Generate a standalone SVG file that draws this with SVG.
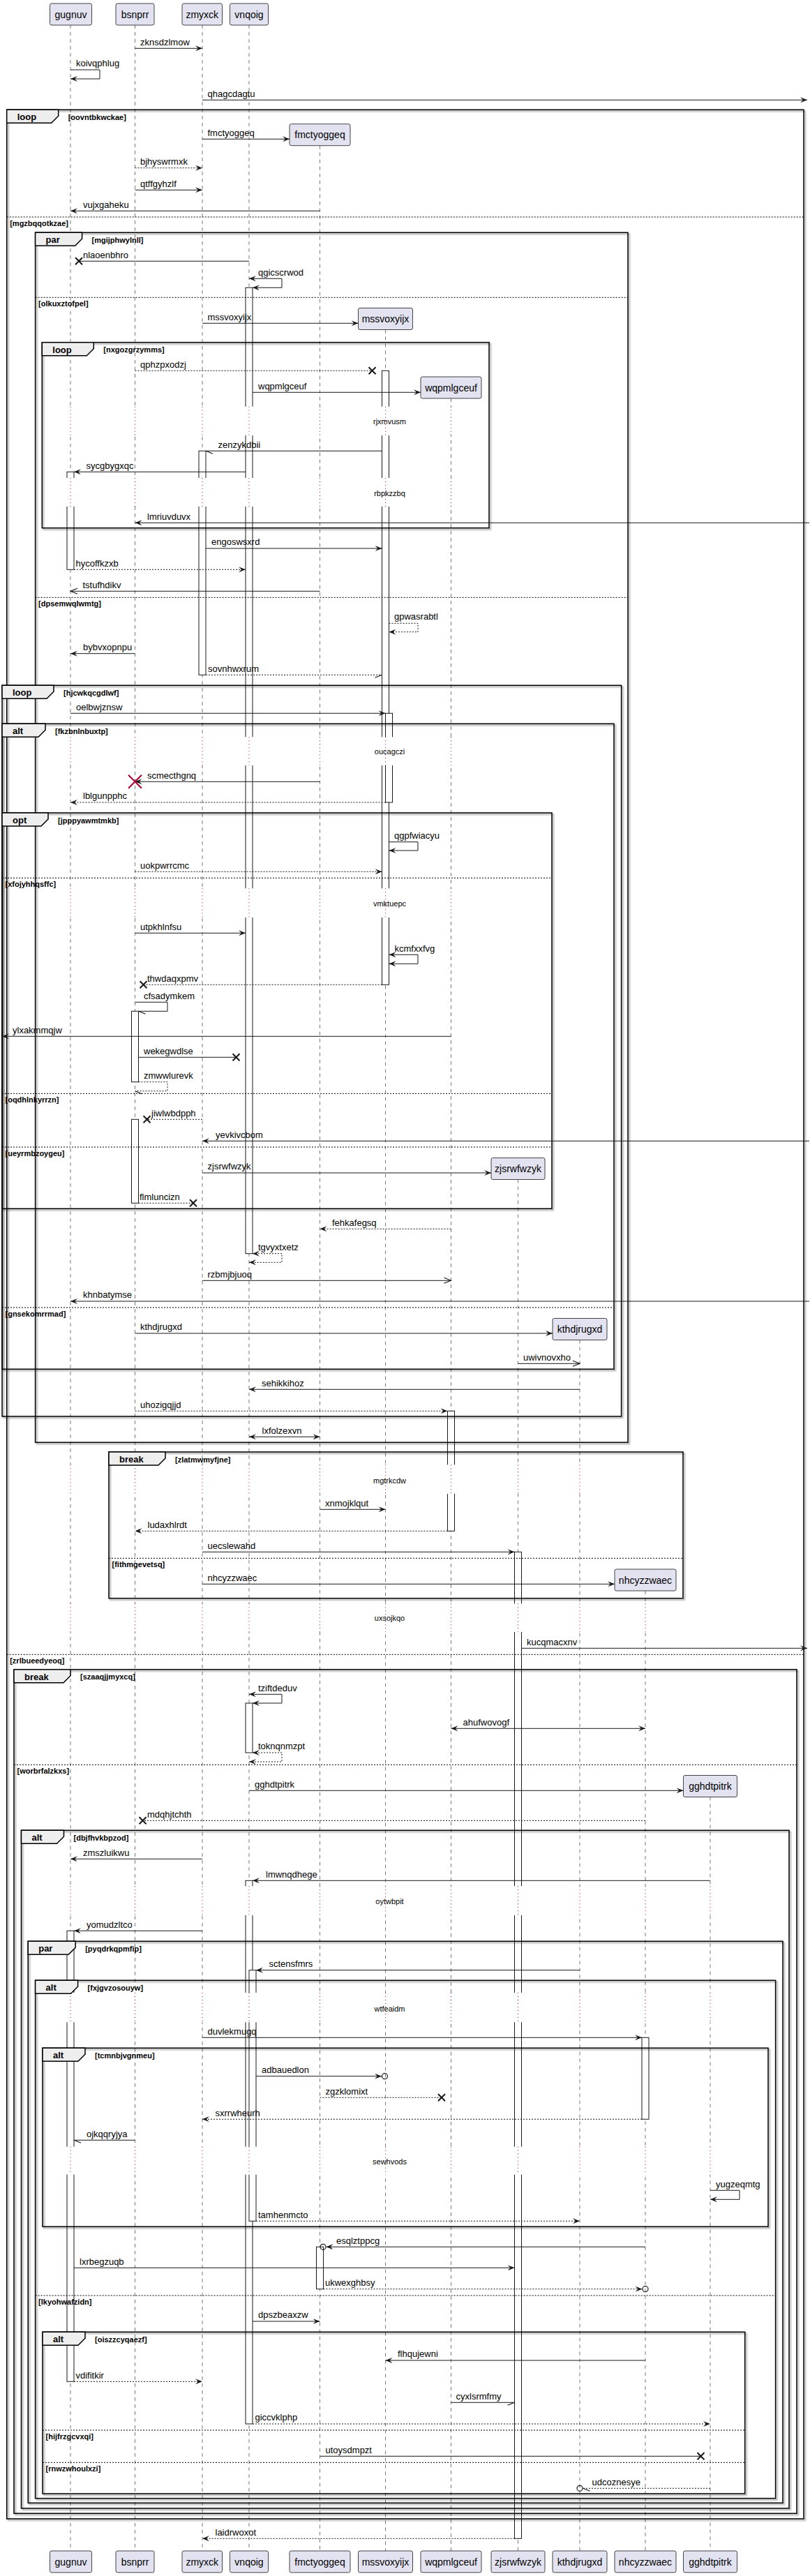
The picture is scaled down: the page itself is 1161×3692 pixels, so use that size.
<svg xmlns="http://www.w3.org/2000/svg" width="1161" height="3692" viewBox="0 0 1161 3692">
<style>
.ll{stroke:#555;stroke-width:0.8;stroke-dasharray:5,5;fill:none}
.dl{stroke:#A80036;stroke-width:1;stroke-dasharray:1,4;fill:none}
.act{fill:#fff;stroke:#181818;stroke-width:1}
.pb{fill:#E2E2F0;stroke:#181818;stroke-width:0.8}
.pt{font-family:"Liberation Sans",Arial,sans-serif;font-size:14px;text-anchor:middle;fill:#000}
.m{stroke:#181818;stroke-width:1;fill:none}
.d{stroke-dasharray:2,2}
.ml{font-family:"Liberation Sans",Arial,sans-serif;font-size:13px;fill:#000}
.fr{fill:none;stroke:#000;stroke-width:1.5}
.tab{fill:#EEEEEE;stroke:#000;stroke-width:1.5}
.tl{font-family:"Liberation Sans",Arial,sans-serif;font-size:13px;font-weight:bold;fill:#000}
.cl{font-family:"Liberation Sans",Arial,sans-serif;font-size:11px;font-weight:bold;fill:#000}
.sep{stroke:#000;stroke-width:1;stroke-dasharray:2,2}
.dt{font-family:"Liberation Sans",Arial,sans-serif;font-size:11px;text-anchor:middle;fill:#000}
.cv{fill:#fff;stroke:none}
.oc{fill:none;stroke:#181818;stroke-width:1.2}
</style>
<defs>
<marker id="af" viewBox="0 0 10 8" refX="10" refY="4" markerWidth="10" markerHeight="8" markerUnits="userSpaceOnUse" orient="auto-start-reverse"><path d="M0,0 L10,4 L0,8 L4,4 Z" fill="#181818"/></marker>
<marker id="ao" viewBox="-1 -1 12 10" refX="10" refY="4" markerWidth="12" markerHeight="10" markerUnits="userSpaceOnUse" orient="auto"><path d="M0,0 L10,4 L0,8" fill="none" stroke="#181818" stroke-width="1.2"/></marker>
<marker id="hr" viewBox="-1 -1 12 10" refX="10" refY="4" markerWidth="12" markerHeight="10" markerUnits="userSpaceOnUse" orient="auto"><path d="M0,8 L10,4" fill="none" stroke="#181818" stroke-width="1.2"/></marker>
<marker id="hl" viewBox="-1 -1 12 10" refX="10" refY="4" markerWidth="12" markerHeight="10" markerUnits="userSpaceOnUse" orient="auto"><path d="M0,0 L10,4" fill="none" stroke="#181818" stroke-width="1.2"/></marker>
<path id="xx" d="M-5,-5 L5,5 M-5,5 L5,-5" stroke="#181818" stroke-width="2" fill="none"/>
<filter id="sh" x="-2%" y="-2%" width="104%" height="104%"><feGaussianBlur in="SourceAlpha" stdDeviation="1"/><feOffset dx="2" dy="2"/><feComponentTransfer><feFuncA type="linear" slope="0.45"/></feComponentTransfer><feMerge><feMergeNode/><feMergeNode in="SourceGraphic"/></feMerge></filter>
</defs>
<rect width="1161" height="3692" fill="#fff"/>

<g id="lifelines">
<line class="ll" x1="101" y1="36" x2="101" y2="3656"/>
<line class="ll" x1="193.5" y1="36" x2="193.5" y2="3656"/>
<line class="ll" x1="290" y1="36" x2="290" y2="3656"/>
<line class="ll" x1="357" y1="36" x2="357" y2="3656"/>
<line class="ll" x1="458.5" y1="208.7" x2="458.5" y2="3656"/>
<line class="ll" x1="552.5" y1="472.5" x2="552.5" y2="3656"/>
<line class="ll" x1="646.5" y1="571" x2="646.5" y2="3656"/>
<line class="ll" x1="742.5" y1="1690.5" x2="742.5" y2="3656"/>
<line class="ll" x1="831" y1="1920.5" x2="831" y2="3656"/>
<line class="ll" x1="925" y1="2280" x2="925" y2="3656"/>
<line class="ll" x1="1018" y1="2575.5" x2="1018" y2="3656"/>
</g>

<g id="activations">
<rect class="act" x="352" y="412.3" width="10" height="1384.4"/>
<rect class="act" x="547.5" y="531.3" width="10" height="880"/>
<rect class="act" x="285" y="646.3" width="10" height="321"/>
<rect class="act" x="96" y="676.3" width="10" height="140"/>
<rect class="act" x="552.5" y="1022.3" width="10" height="127.7"/>
<rect class="act" x="188.5" y="1449.3" width="10" height="101.4"/>
<rect class="act" x="188.5" y="1604.3" width="10" height="120"/>
<rect class="act" x="641.5" y="2022.3" width="10" height="172"/>
<rect class="act" x="737.5" y="2224.3" width="10" height="1414"/>
<rect class="act" x="352" y="2441" width="10" height="71"/>
<rect class="act" x="352" y="2695.3" width="10" height="778.7"/>
<rect class="act" x="96" y="2767.3" width="10" height="646"/>
<rect class="act" x="357" y="2823.7" width="10" height="359.6"/>
<rect class="act" x="920" y="2920.3" width="10" height="117"/>
<rect class="act" x="453.5" y="3220.3" width="10" height="60.4"/>
</g>

<g id="delays">
<rect class="cv" x="0" y="582.7" width="1161" height="41.3"/>
<rect class="cv" x="0" y="685" width="1161" height="41"/>
<rect class="cv" x="0" y="1056.3" width="1161" height="40.7"/>
<rect class="cv" x="0" y="1273.3" width="1161" height="41.7"/>
<rect class="cv" x="0" y="2099.3" width="1161" height="41.7"/>
<rect class="cv" x="0" y="2298.3" width="1161" height="40.7"/>
<rect class="cv" x="0" y="2703.3" width="1161" height="41.7"/>
<rect class="cv" x="0" y="2856" width="1161" height="42.3"/>
<rect class="cv" x="0" y="3076.7" width="1161" height="40"/>
<g class="dl">
<path d="M101,582.7V624M193.5,582.7V624M290,582.7V624M357,582.7V624M458.5,582.7V624M552.5,582.7V624M646.5,582.7V624"/>
<path d="M101,685V726M193.5,685V726M290,685V726M357,685V726M458.5,685V726M552.5,685V726M646.5,685V726"/>
<path d="M101,1056.3V1097M193.5,1056.3V1097M290,1056.3V1097M357,1056.3V1097M458.5,1056.3V1097M552.5,1056.3V1097M646.5,1056.3V1097"/>
<path d="M101,1273.3V1315M193.5,1273.3V1315M290,1273.3V1315M357,1273.3V1315M458.5,1273.3V1315M552.5,1273.3V1315M646.5,1273.3V1315"/>
<path d="M101,2099.3V2141M193.5,2099.3V2141M290,2099.3V2141M357,2099.3V2141M458.5,2099.3V2141M552.5,2099.3V2141M646.5,2099.3V2141M742.5,2099.3V2141M831,2099.3V2141"/>
<path d="M101,2298.3V2339M193.5,2298.3V2339M290,2298.3V2339M357,2298.3V2339M458.5,2298.3V2339M552.5,2298.3V2339M646.5,2298.3V2339M742.5,2298.3V2339M831,2298.3V2339M925,2298.3V2339"/>
<path d="M101,2703.3V2745M193.5,2703.3V2745M290,2703.3V2745M357,2703.3V2745M458.5,2703.3V2745M552.5,2703.3V2745M646.5,2703.3V2745M742.5,2703.3V2745M831,2703.3V2745M925,2703.3V2745M1018,2703.3V2745"/>
<path d="M101,2856V2898.3M193.5,2856V2898.3M290,2856V2898.3M357,2856V2898.3M458.5,2856V2898.3M552.5,2856V2898.3M646.5,2856V2898.3M742.5,2856V2898.3M831,2856V2898.3M925,2856V2898.3M1018,2856V2898.3"/>
<path d="M101,3076.7V3116.7M193.5,3076.7V3116.7M290,3076.7V3116.7M357,3076.7V3116.7M458.5,3076.7V3116.7M552.5,3076.7V3116.7M646.5,3076.7V3116.7M742.5,3076.7V3116.7M831,3076.7V3116.7M925,3076.7V3116.7M1018,3076.7V3116.7"/>
</g>
<text class="dt" x="558.5" y="608">rjxmvusm</text>
<text class="dt" x="558.5" y="710.5">rbpkzzbq</text>
<text class="dt" x="558.5" y="1081">oucagczi</text>
<text class="dt" x="558.5" y="1299">vmktuepc</text>
<text class="dt" x="558.5" y="2125.5">mgtrkcdw</text>
<text class="dt" x="558.5" y="2323">uxsojkqo</text>
<text class="dt" x="558.5" y="2729">oytwbpit</text>
<text class="dt" x="558.5" y="2882.5">wtfeaidm</text>
<text class="dt" x="558.5" y="3101.5">sewhvods</text>
</g>

<g id="frame-loop-oovntbkwckae">
<rect class="fr" filter="url(#sh)" x="9.7" y="157.3" width="1142.3" height="3452.7"/>
<path class="tab" d="M9.7,157.3 h74 v9 l-10,10 H9.7 Z"/>
<text class="tl" x="24.7" y="172.3">loop</text>
<text class="cl" x="97.7" y="171.8">[oovntbkwckae]</text>
<line class="sep" x1="9.7" y1="311" x2="1152" y2="311"/>
<text class="cl" x="14.2" y="323.5">[mgzbqqotkzae]</text>
<line class="sep" x1="9.7" y1="2371.3" x2="1152" y2="2371.3"/>
<text class="cl" x="14.2" y="2383.8">[zrlbueedyeoq]</text>
</g>
<g id="frame-par-mgijphwylnll">
<rect class="fr" filter="url(#sh)" x="50.6" y="333.3" width="849.4" height="1734"/>
<path class="tab" d="M50.6,333.3 h67 v9 l-10,10 H50.6 Z"/>
<text class="tl" x="65.6" y="348.3">par</text>
<text class="cl" x="131.6" y="347.8">[mgijphwylnll]</text>
<line class="sep" x1="50.6" y1="426.3" x2="900" y2="426.3"/>
<text class="cl" x="55.1" y="438.8">[olkuxztofpel]</text>
<line class="sep" x1="50.6" y1="856.3" x2="900" y2="856.3"/>
<text class="cl" x="55.1" y="868.8">[dpsemwqlwmtg]</text>
</g>
<g id="frame-loop-nxgozgrzymms">
<rect class="fr" filter="url(#sh)" x="60.3" y="490.7" width="640.7" height="266"/>
<path class="tab" d="M60.3,490.7 h74 v9 l-10,10 H60.3 Z"/>
<text class="tl" x="75.3" y="505.7">loop</text>
<text class="cl" x="148.3" y="505.2">[nxgozgrzymms]</text>
</g>
<g id="frame-loop-hjcwkqcgdlwf">
<rect class="fr" filter="url(#sh)" x="3" y="982.3" width="887.6" height="1047.7"/>
<path class="tab" d="M3,982.3 h74 v9 l-10,10 H3 Z"/>
<text class="tl" x="18" y="997.3">loop</text>
<text class="cl" x="91" y="996.8">[hjcwkqcgdlwf]</text>
</g>
<g id="frame-alt-fkzbnlnbuxtp">
<rect class="fr" filter="url(#sh)" x="3" y="1037.3" width="877" height="925"/>
<path class="tab" d="M3,1037.3 h62 v9 l-10,10 H3 Z"/>
<text class="tl" x="18" y="1052.3">alt</text>
<text class="cl" x="79" y="1051.8">[fkzbnlnbuxtp]</text>
<line class="sep" x1="3" y1="1874" x2="880" y2="1874"/>
<text class="cl" x="7.5" y="1886.5">[gnsekomrrmad]</text>
</g>
<g id="frame-opt-jpppyawmtmkb">
<rect class="fr" filter="url(#sh)" x="3" y="1165" width="788" height="567.3"/>
<path class="tab" d="M3,1165 h66 v9 l-10,10 H3 Z"/>
<text class="tl" x="18" y="1180">opt</text>
<text class="cl" x="83" y="1179.5">[jpppyawmtmkb]</text>
<line class="sep" x1="3" y1="1258.3" x2="791" y2="1258.3"/>
<text class="cl" x="7.5" y="1270.8">[xfojyhhqsffc]</text>
<line class="sep" x1="3" y1="1567.3" x2="791" y2="1567.3"/>
<text class="cl" x="7.5" y="1579.8">[oqdhlnkyrrzn]</text>
<line class="sep" x1="3" y1="1644" x2="791" y2="1644"/>
<text class="cl" x="7.5" y="1656.5">[ueyrmbzoygeu]</text>
</g>
<g id="frame-break-zlatmwmyfjne">
<rect class="fr" filter="url(#sh)" x="156" y="2081" width="823" height="209.7"/>
<path class="tab" d="M156,2081 h81 v9 l-10,10 H156 Z"/>
<text class="tl" x="171" y="2096">break</text>
<text class="cl" x="251" y="2095.5">[zlatmwmyfjne]</text>
<line class="sep" x1="156" y1="2233.3" x2="979" y2="2233.3"/>
<text class="cl" x="160.5" y="2245.8">[fithmgevetsq]</text>
</g>
<g id="frame-break-szaaqjjmyxcq">
<rect class="fr" filter="url(#sh)" x="20" y="2392.7" width="1122" height="1209.6"/>
<path class="tab" d="M20,2392.7 h81 v9 l-10,10 H20 Z"/>
<text class="tl" x="35" y="2407.7">break</text>
<text class="cl" x="115" y="2407.2">[szaaqjjmyxcq]</text>
<line class="sep" x1="20" y1="2529.3" x2="1142" y2="2529.3"/>
<text class="cl" x="24.5" y="2541.8">[worbrfalzkxs]</text>
</g>
<g id="frame-alt-dbjfhvkbpzod">
<rect class="fr" filter="url(#sh)" x="30.5" y="2623.3" width="1100.5" height="971.7"/>
<path class="tab" d="M30.5,2623.3 h61 v9 l-10,10 H30.5 Z"/>
<text class="tl" x="45.5" y="2638.3">alt</text>
<text class="cl" x="105.5" y="2637.8">[dbjfhvkbpzod]</text>
</g>
<g id="frame-par-pyqdrkqpmfip">
<rect class="fr" filter="url(#sh)" x="40.2" y="2782.3" width="1081.8" height="805"/>
<path class="tab" d="M40.2,2782.3 h68 v9 l-10,10 H40.2 Z"/>
<text class="tl" x="55.2" y="2797.3">par</text>
<text class="cl" x="122.2" y="2796.8">[pyqdrkqpmfip]</text>
</g>
<g id="frame-alt-fxjgvzosouyw">
<rect class="fr" filter="url(#sh)" x="50.6" y="2838.3" width="1061" height="742.4"/>
<path class="tab" d="M50.6,2838.3 h61 v9 l-10,10 H50.6 Z"/>
<text class="tl" x="65.6" y="2853.3">alt</text>
<text class="cl" x="125.6" y="2852.8">[fxjgvzosouyw]</text>
<line class="sep" x1="50.6" y1="3290" x2="1111.6" y2="3290"/>
<text class="cl" x="55.1" y="3302.5">[lkyohwafzidn]</text>
</g>
<g id="frame-alt-tcmnbjvgnmeu">
<rect class="fr" filter="url(#sh)" x="61" y="2935.3" width="1040" height="256"/>
<path class="tab" d="M61,2935.3 h61 v9 l-10,10 H61 Z"/>
<text class="tl" x="76" y="2950.3">alt</text>
<text class="cl" x="136" y="2949.8">[tcmnbjvgnmeu]</text>
</g>
<g id="frame-alt-oiszzcyqaezf">
<rect class="fr" filter="url(#sh)" x="61" y="3342.3" width="1006.7" height="231.7"/>
<path class="tab" d="M61,3342.3 h61 v9 l-10,10 H61 Z"/>
<text class="tl" x="76" y="3357.3">alt</text>
<text class="cl" x="136" y="3356.8">[oiszzcyqaezf]</text>
<line class="sep" x1="61" y1="3483" x2="1067.7" y2="3483"/>
<text class="cl" x="65.5" y="3495.5">[hijfrzgcvxqi]</text>
<line class="sep" x1="61" y1="3529.3" x2="1067.7" y2="3529.3"/>
<text class="cl" x="65.5" y="3541.8">[rnwzwhoulxzi]</text>
</g>

<g id="gugnuv"><rect class="pb" x="71.5" y="5" width="60" height="31" rx="2.5"/><text class="pt" x="101.5" y="25.5">gugnuv</text><rect class="pb" x="71.5" y="3656" width="60" height="31" rx="2.5"/><text class="pt" x="101.5" y="3676.5">gugnuv</text></g>
<g id="bsnprr"><rect class="pb" x="166" y="5" width="55" height="31" rx="2.5"/><text class="pt" x="193.5" y="25.5">bsnprr</text><rect class="pb" x="166" y="3656" width="55" height="31" rx="2.5"/><text class="pt" x="193.5" y="3676.5">bsnprr</text></g>
<g id="zmyxck"><rect class="pb" x="261" y="5" width="57.5" height="31" rx="2.5"/><text class="pt" x="289.75" y="25.5">zmyxck</text><rect class="pb" x="261" y="3656" width="57.5" height="31" rx="2.5"/><text class="pt" x="289.75" y="3676.5">zmyxck</text></g>
<g id="vnqoig"><rect class="pb" x="329.5" y="5" width="55" height="31" rx="2.5"/><text class="pt" x="357" y="25.5">vnqoig</text><rect class="pb" x="329.5" y="3656" width="55" height="31" rx="2.5"/><text class="pt" x="357" y="3676.5">vnqoig</text></g>
<g id="fmctyoggeq"><rect class="pb" x="415" y="177.7" width="87" height="31" rx="2.5"/><text class="pt" x="458.5" y="198.2">fmctyoggeq</text><rect class="pb" x="415" y="3656" width="87" height="31" rx="2.5"/><text class="pt" x="458.5" y="3676.5">fmctyoggeq</text></g>
<g id="mssvoxyijx"><rect class="pb" x="513.5" y="441.5" width="78" height="31" rx="2.5"/><text class="pt" x="552.5" y="462">mssvoxyijx</text><rect class="pb" x="513.5" y="3656" width="78" height="31" rx="2.5"/><text class="pt" x="552.5" y="3676.5">mssvoxyijx</text></g>
<g id="wqpmlgceuf"><rect class="pb" x="603" y="540" width="87" height="31" rx="2.5"/><text class="pt" x="646.5" y="560.5">wqpmlgceuf</text><rect class="pb" x="603" y="3656" width="87" height="31" rx="2.5"/><text class="pt" x="646.5" y="3676.5">wqpmlgceuf</text></g>
<g id="zjsrwfwzyk"><rect class="pb" x="704" y="1659.5" width="77" height="31" rx="2.5"/><text class="pt" x="742.5" y="1680">zjsrwfwzyk</text><rect class="pb" x="704" y="3656" width="77" height="31" rx="2.5"/><text class="pt" x="742.5" y="3676.5">zjsrwfwzyk</text></g>
<g id="kthdjrugxd"><rect class="pb" x="792" y="1889.5" width="78" height="31" rx="2.5"/><text class="pt" x="831" y="1910">kthdjrugxd</text><rect class="pb" x="792" y="3656" width="78" height="31" rx="2.5"/><text class="pt" x="831" y="3676.5">kthdjrugxd</text></g>
<g id="nhcyzzwaec"><rect class="pb" x="881" y="2249" width="88" height="31" rx="2.5"/><text class="pt" x="925" y="2269.5">nhcyzzwaec</text><rect class="pb" x="881" y="3656" width="88" height="31" rx="2.5"/><text class="pt" x="925" y="3676.5">nhcyzzwaec</text></g>
<g id="gghdtpitrk"><rect class="pb" x="979.5" y="2544.5" width="77" height="31" rx="2.5"/><text class="pt" x="1018" y="2565">gghdtpitrk</text><rect class="pb" x="979.5" y="3656" width="77" height="31" rx="2.5"/><text class="pt" x="1018" y="3676.5">gghdtpitrk</text></g>

<g id="connectors">
<line class="m" x1="193.5" y1="69.3" x2="290" y2="69.3" marker-end="url(#af)"/><text class="ml" x="201" y="64.5">zknsdzlmow</text>
<polyline class="m" points="101,100 143,100 143,113 101,113" marker-end="url(#af)"/><text class="ml" x="109" y="95">koivqphlug</text>
<line class="m" x1="290" y1="143.3" x2="1157" y2="143.3" marker-end="url(#af)"/><text class="ml" x="297.5" y="138.5">qhagcdagtu</text>
<line class="m" x1="290" y1="199.3" x2="415" y2="199.3" marker-end="url(#af)"/><text class="ml" x="297.5" y="194.5">fmctyoggeq</text>
<line class="m d" x1="193.5" y1="240.7" x2="290" y2="240.7" marker-end="url(#af)"/><text class="ml" x="201" y="236">bjhyswrmxk</text>
<line class="m" x1="193.5" y1="272.3" x2="290" y2="272.3" marker-end="url(#af)"/><text class="ml" x="201" y="267.5">qtffgyhzlf</text>
<line class="m" x1="458.5" y1="302.3" x2="101" y2="302.3" marker-end="url(#af)"/><text class="ml" x="119" y="297.5">vujxgaheku</text>
<line class="m" x1="357" y1="374.3" x2="113" y2="374.3"/><use href="#xx" x="113" y="374.3"/><text class="ml" x="119" y="369.5">nlaoenbhro</text>
<polyline class="m" points="357,399.3 404,399.3 404,412.3 362,412.3" marker-start="url(#af)" marker-end="url(#af)"/><text class="ml" x="370" y="394.5">qgicscrwod</text>
<line class="m" x1="290" y1="463.3" x2="513.5" y2="463.3" marker-end="url(#af)"/><text class="ml" x="297.5" y="458.5">mssvoxyijx</text>
<line class="m d" x1="193.5" y1="531.3" x2="533.5" y2="531.3"/><use href="#xx" x="533.5" y="531.3"/><text class="ml" x="201" y="526.5">qphzpxodzj</text>
<line class="m" x1="362" y1="562.3" x2="603" y2="562.3" marker-end="url(#af)"/><text class="ml" x="370" y="557.5">wqpmlgceuf</text>
<line class="m" x1="547.5" y1="646.3" x2="295" y2="646.3" marker-end="url(#hl)"/><text class="ml" x="312.5" y="641.5">zenzykdbii</text>
<line class="m" x1="352" y1="676.3" x2="106" y2="676.3" marker-end="url(#af)"/><text class="ml" x="123.5" y="671.5">sycgbygxqc</text>
<line class="m" x1="1160" y1="749.3" x2="193.5" y2="749.3" marker-end="url(#af)"/><text class="ml" x="211" y="744.5">lmriuvduvx</text>
<line class="m" x1="295" y1="786" x2="547.5" y2="786" marker-end="url(#af)"/><text class="ml" x="303" y="781">engoswsxrd</text>
<line class="m d" x1="106" y1="816.3" x2="352" y2="816.3" marker-end="url(#af)"/><text class="ml" x="108.5" y="811.5">hycoffkzxb</text>
<line class="m" x1="458.5" y1="847.3" x2="101" y2="847.3" marker-end="url(#ao)"/><text class="ml" x="118.5" y="842.5">tstufhdikv</text>
<polyline class="m d" points="557.5,893.3 599,893.3 599,905.7 557.5,905.7" marker-end="url(#af)"/><text class="ml" x="565" y="888">gpwasrabtl</text>
<line class="m" x1="193.5" y1="936.7" x2="101" y2="936.7" marker-end="url(#af)"/><text class="ml" x="119" y="932">bybvxopnpu</text>
<line class="m d" x1="295" y1="967.3" x2="547.5" y2="967.3" marker-end="url(#hr)"/><text class="ml" x="298" y="962.5">sovnhwxrum</text>
<line class="m" x1="101" y1="1022.3" x2="552.5" y2="1022.3" marker-end="url(#af)"/><text class="ml" x="109" y="1017.5">oelbwjznsw</text>
<line class="m" x1="458.5" y1="1120.3" x2="193.5" y2="1120.3" marker-end="url(#af)"/><path d="M184,1110.8 L203,1129.8 M184,1129.8 L203,1110.8" stroke="#A80036" stroke-width="2"/><text class="ml" x="211" y="1115.5">scmecthgnq</text>
<line class="m d" x1="552.5" y1="1150" x2="101" y2="1150" marker-end="url(#af)"/><text class="ml" x="119" y="1145">lblgunpphc</text>
<polyline class="m" points="557.5,1206.7 599,1206.7 599,1219 557.5,1219" marker-end="url(#af)"/><text class="ml" x="565" y="1201.5">qgpfwiacyu</text>
<line class="m d" x1="193.5" y1="1249.3" x2="547.5" y2="1249.3" marker-end="url(#af)"/><text class="ml" x="201" y="1244.5">uokpwrrcmc</text>
<line class="m" x1="193.5" y1="1337.3" x2="352" y2="1337.3" marker-end="url(#af)"/><text class="ml" x="201" y="1332.5">utpkhlnfsu</text>
<polyline class="m" points="557.5,1368.3 599,1368.3 599,1381.3 557.5,1381.3" marker-start="url(#af)" marker-end="url(#af)"/><text class="ml" x="565.5" y="1363.5">kcmfxxfvg</text>
<line class="m d" x1="547.5" y1="1411.3" x2="205.5" y2="1411.3"/><use href="#xx" x="205.5" y="1411.3"/><text class="ml" x="211" y="1406.5">thwdaqxpmv</text>
<polyline class="m" points="193.5,1436.3 240,1436.3 240,1449.3 198.5,1449.3" marker-end="url(#hl)"/><text class="ml" x="206" y="1431.5">cfsadymkem</text>
<line class="m" x1="646.5" y1="1485.3" x2="3" y2="1485.3" marker-end="url(#af)"/><text class="ml" x="18" y="1480.5">ylxakmmqjw</text>
<line class="m" x1="198.5" y1="1515.3" x2="338.5" y2="1515.3"/><use href="#xx" x="338.5" y="1515.3"/><text class="ml" x="206" y="1510.5">wekegwdlse</text>
<polyline class="m d" points="198.5,1550.7 240,1550.7 240,1563.7 193.5,1563.7" marker-end="url(#hl)"/><text class="ml" x="206" y="1546">zmwwlurevk</text>
<line class="m d" x1="290" y1="1604.3" x2="210.6" y2="1604.3"/><use href="#xx" x="210.6" y="1604.3"/><text class="ml" x="217" y="1599.5">jiwlwbdpph</text>
<line class="m" x1="1160" y1="1635.3" x2="290" y2="1635.3" marker-end="url(#af)"/><text class="ml" x="309" y="1630.5">yevkivcbom</text>
<line class="m" x1="290" y1="1681" x2="704" y2="1681" marker-end="url(#af)"/><text class="ml" x="297.5" y="1676">zjsrwfwzyk</text>
<line class="m d" x1="198.5" y1="1724.3" x2="277" y2="1724.3"/><use href="#xx" x="277" y="1724.3"/><text class="ml" x="200" y="1719.5">flmluncizn</text>
<line class="m d" x1="646.5" y1="1761.3" x2="458.5" y2="1761.3" marker-end="url(#af)"/><text class="ml" x="476" y="1756.5">fehkafegsq</text>
<polyline class="m d" points="362,1796.7 404,1796.7 404,1809.3 357,1809.3" marker-start="url(#af)" marker-end="url(#af)"/><text class="ml" x="370" y="1792">tgvyxtxetz</text>
<line class="m" x1="290" y1="1835.3" x2="646.5" y2="1835.3" marker-end="url(#ao)"/><text class="ml" x="297.5" y="1830.5">rzbmjbjuoq</text>
<line class="m" x1="1160" y1="1865" x2="101" y2="1865" marker-end="url(#af)"/><text class="ml" x="119" y="1860">khnbatymse</text>
<line class="m" x1="193.5" y1="1911" x2="792" y2="1911" marker-end="url(#af)"/><text class="ml" x="201" y="1906">kthdjrugxd</text>
<line class="m" x1="742.5" y1="1954.3" x2="831" y2="1954.3" marker-end="url(#ao)"/><text class="ml" x="750" y="1949.5">uwivnovxho</text>
<line class="m" x1="831" y1="1991.3" x2="357" y2="1991.3" marker-end="url(#af)"/><text class="ml" x="375" y="1986.5">sehikkihoz</text>
<line class="m d" x1="193.5" y1="2022.3" x2="641.5" y2="2022.3" marker-end="url(#af)"/><text class="ml" x="201" y="2017.5">uhozigqjjd</text>
<line class="m" x1="357" y1="2059.3" x2="458.5" y2="2059.3" marker-start="url(#af)" marker-end="url(#af)"/><text class="ml" x="375.5" y="2054.5">lxfolzexvn</text>
<line class="m" x1="458.5" y1="2163.3" x2="552.5" y2="2163.3" marker-end="url(#af)"/><text class="ml" x="466" y="2158.5">xnmojklqut</text>
<line class="m d" x1="641.5" y1="2194.3" x2="193.5" y2="2194.3" marker-end="url(#af)"/><text class="ml" x="211.5" y="2189.5">ludaxhlrdt</text>
<line class="m" x1="290" y1="2224.3" x2="737.5" y2="2224.3" marker-end="url(#af)"/><text class="ml" x="297.5" y="2219.5">uecslewahd</text>
<line class="m" x1="290" y1="2270.3" x2="881" y2="2270.3" marker-end="url(#af)"/><text class="ml" x="297.5" y="2265.5">nhcyzzwaec</text>
<line class="m" x1="747.5" y1="2362.3" x2="1157" y2="2362.3" marker-end="url(#af)"/><text class="ml" x="755" y="2357.5">kucqmacxnv</text>
<polyline class="m" points="357,2428.3 404,2428.3 404,2441 362,2441" marker-start="url(#af)" marker-end="url(#af)"/><text class="ml" x="370" y="2423.5">tziftdeduv</text>
<line class="m" x1="646.5" y1="2477.3" x2="925" y2="2477.3" marker-start="url(#af)" marker-end="url(#af)"/><text class="ml" x="663.5" y="2472.5">ahufwovogf</text>
<polyline class="m d" points="362,2512 404,2512 404,2525 357,2525" marker-start="url(#af)" marker-end="url(#af)"/><text class="ml" x="370" y="2507">toknqnmzpt</text>
<line class="m" x1="357" y1="2566.3" x2="979.5" y2="2566.3" marker-end="url(#af)"/><text class="ml" x="365" y="2561.5">gghdtpitrk</text>
<line class="m d" x1="925" y1="2609.3" x2="204.6" y2="2609.3"/><use href="#xx" x="204.6" y="2609.3"/><text class="ml" x="211" y="2604.5">mdqhjtchth</text>
<line class="m" x1="290" y1="2664.3" x2="101" y2="2664.3" marker-end="url(#af)"/><text class="ml" x="119" y="2659.5">zmszluikwu</text>
<line class="m" x1="1018" y1="2695.3" x2="362" y2="2695.3" marker-end="url(#af)"/><text class="ml" x="381" y="2690.5">lmwnqdhege</text>
<line class="m" x1="290" y1="2767.3" x2="106" y2="2767.3" marker-end="url(#af)"/><text class="ml" x="124" y="2762.5">yomudzltco</text>
<line class="m" x1="831" y1="2823.7" x2="367" y2="2823.7" marker-end="url(#af)"/><text class="ml" x="385.5" y="2819">sctensfmrs</text>
<line class="m" x1="290" y1="2920.3" x2="920" y2="2920.3" marker-end="url(#af)"/><text class="ml" x="297.5" y="2915.5">duvlekmugq</text>
<line class="m" x1="367" y1="2975.7" x2="547" y2="2975.7" marker-end="url(#af)"/><circle class="oc" cx="551.5" cy="2975.7" r="4"/><text class="ml" x="375" y="2971">adbauedlon</text>
<line class="m d" x1="458.5" y1="3006.3" x2="633" y2="3006.3"/><use href="#xx" x="633" y="3006.3"/><text class="ml" x="466.5" y="3001.5">zgzklomixt</text>
<line class="m d" x1="920" y1="3037.3" x2="290" y2="3037.3" marker-end="url(#af)"/><text class="ml" x="308.5" y="3032.5">sxrrwheurh</text>
<line class="m" x1="193.5" y1="3067.3" x2="106" y2="3067.3" marker-end="url(#hl)"/><text class="ml" x="124" y="3062.5">ojkqqryjya</text>
<polyline class="m" points="1018,3139.3 1060,3139.3 1060,3152.3 1018,3152.3" marker-end="url(#af)"/><text class="ml" x="1026" y="3134.5">yugzeqmtg</text>
<line class="m d" x1="367" y1="3183.3" x2="831" y2="3183.3" marker-end="url(#af)"/><text class="ml" x="370" y="3178.5">tamhenmcto</text>
<line class="m" x1="925" y1="3220.3" x2="467.5" y2="3220.3" marker-end="url(#af)"/><circle class="oc" cx="463" cy="3220.3" r="4"/><text class="ml" x="482" y="3215.5">esqlztppcg</text>
<line class="m" x1="106" y1="3250.3" x2="737.5" y2="3250.3" marker-end="url(#af)"/><text class="ml" x="114" y="3245.5">lxrbegzuqb</text>
<line class="m d" x1="463.5" y1="3280.7" x2="920.5" y2="3280.7" marker-end="url(#af)"/><circle class="oc" cx="925" cy="3280.7" r="4"/><text class="ml" x="466" y="3276">ukwexghbsy</text>
<line class="m" x1="362" y1="3327" x2="458.5" y2="3327" marker-end="url(#af)"/><text class="ml" x="370" y="3322">dpszbeaxzw</text>
<line class="m" x1="925" y1="3383" x2="552.5" y2="3383" marker-end="url(#af)"/><text class="ml" x="570" y="3378">flhqujewni</text>
<line class="m d" x1="106" y1="3413.3" x2="290" y2="3413.3" marker-end="url(#af)"/><text class="ml" x="108.5" y="3408.5">vdifitkir</text>
<line class="m" x1="646.5" y1="3443.3" x2="737.5" y2="3443.3" marker-end="url(#hr)"/><text class="ml" x="653.5" y="3438.5">cyxlsrmfmy</text>
<line class="m d" x1="362" y1="3474" x2="1018" y2="3474" marker-end="url(#af)"/><text class="ml" x="365.5" y="3469">giccvklphp</text>
<line class="m" x1="458.5" y1="3520.3" x2="1004.5" y2="3520.3"/><use href="#xx" x="1004.5" y="3520.3"/><text class="ml" x="466.5" y="3515.5">utoysdmpzt</text>
<line class="m d" x1="1018" y1="3566.3" x2="835.5" y2="3566.3" marker-end="url(#hl)"/><circle class="oc" cx="831" cy="3566.3" r="4"/><text class="ml" x="848.5" y="3561.5">udcoznesye</text>
<line class="m d" x1="737.5" y1="3638.3" x2="290" y2="3638.3" marker-end="url(#af)"/><text class="ml" x="308.5" y="3633.5">laidrwoxot</text>
</g>
</svg>
